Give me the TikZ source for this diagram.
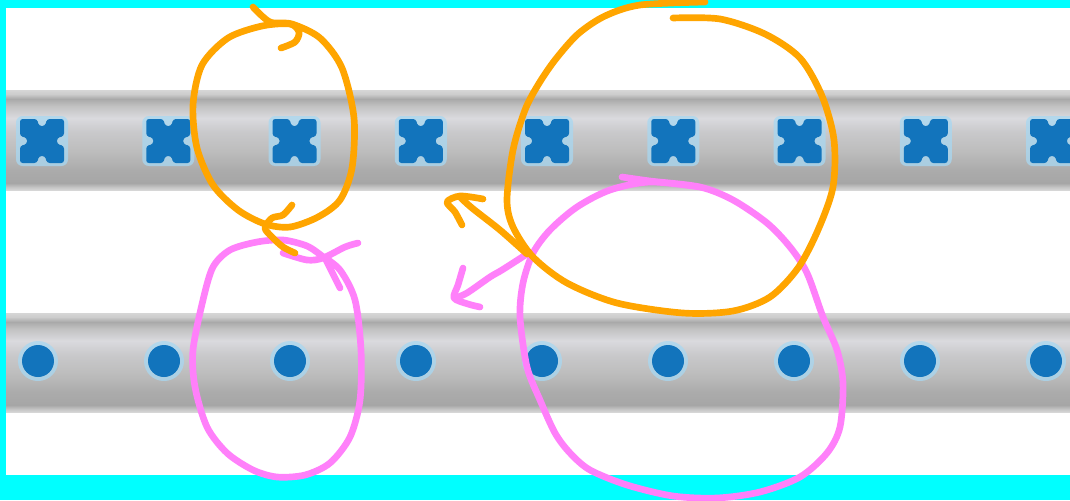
\documentclass[tikz,border=0pt]{standalone}
\usepackage{tikz}
\usetikzlibrary{arrows.meta, positioning}

\definecolor{framecyan}{HTML}{00FFFF}
\definecolor{penorange}{HTML}{FFA500}
\definecolor{penpink}{HTML}{FF80FA}
\definecolor{dotblue}{HTML}{1274BC}
\definecolor{dothalo}{HTML}{A8D8F2}
\definecolor{rodA}{HTML}{D6D6D6}
\definecolor{rodB}{HTML}{C4C4C4}
\definecolor{rodC}{HTML}{A6A6A6}
\definecolor{rodD}{HTML}{ABABAB}
\definecolor{rodE}{HTML}{BCBCBC}
\definecolor{rodF}{HTML}{C9C9CB}
\definecolor{rodG}{HTML}{DADADE}
\definecolor{rodH}{HTML}{C2C2C2}
\definecolor{rodI}{HTML}{A9A9A9}
\definecolor{rodJ}{HTML}{CDCDCD}

\pgfdeclareverticalshading{rodshade}{100bp}{color(0bp)=(rodA); color(25bp)=(rodA); color(26.5bp)=(rodB); color(28.5bp)=(rodC); color(35bp)=(rodD); color(44bp)=(rodE); color(54bp)=(rodF); color(61bp)=(rodG); color(67bp)=(rodH); color(70.5bp)=(rodI); color(73bp)=(rodJ); color(75bp)=(rodA); color(100bp)=(rodA)}

\begin{document}
\begin{tikzpicture}[x=0.75pt, y=-0.75pt,
  rod/.style={shading=rodshade},
  crossmark/.style={fill=dotblue, rounded corners=2pt},
  roundmark/.style={fill=dotblue},
  halo/.style={fill=dothalo, opacity=0.75},
  orangepen/.style={draw=penorange, line width=5pt, line cap=round, line join=round},
  pinkpen/.style={draw=penpink, line width=5pt, line cap=round, line join=round}]
\fill[framecyan] (0,0) rectangle (1070,500);
\fill[white] (6,8) rectangle (1070,475);
\useasboundingbox (0,0) rectangle (1070,500);

\shade[rod] (6,90) rectangle (1070,190);
\shade[rod] (6,313) rectangle (1070,412);

\foreach \cx in {42,168.25,294.5,420.75,547,673.25,799.5,925.75,1052} {
  \begin{scope}[shift={(\cx,141)}]
    \fill[halo, rounded corners=5pt] (-26,-25) rectangle (26,25);
    \path[crossmark] (-22,-22) -- (-5,-22) -- (-3,-15) -- (3,-15) -- (5,-22) -- (22,-22)
      -- (22,-5) -- (15,-3) -- (15,3) -- (22,5) -- (22,22) -- (5,22) -- (3,15) -- (-3,15)
      -- (-5,22) -- (-22,22) -- (-22,5) -- (-15,3) -- (-15,-3) -- (-22,-5) -- cycle;
  \end{scope}
}
\foreach \cx in {38,164,290,416,542,668,794,920,1046} {
  \fill[halo] (\cx,361) circle (20);
  \fill[roundmark] (\cx,361) circle (16);
}

\coordinate (hub) at (527,254);

\draw[pinkpen] plot[smooth] coordinates {(322,256) (340,270) (355,300) (361,350) (360,400) (350,437) (330,463) (305,475) (277,477) (253,470) (227,453) (207,427) (195,387) (193,350) (203,300) (213,267) (230,250) (257,242) (283,240) (307,246) (322,256)};
\draw[pinkpen] plot[smooth] coordinates {(283,253) (307,260) (323,258) (345,247) (358,243)};
\draw[pinkpen] (325,258) -- (340,288);

\draw[pinkpen] plot[smooth] coordinates {(622,177) (650,181) (700,187) (733,200) (767,223) (790,247) (807,273) (823,317) (837,350) (843,383) (840,427) (827,453) (800,477) (760,492) (717,498) (673,496) (627,485) (590,470) (570,453) (555,433) (540,400) (527,367) (520,317) (523,283) (533,253) (550,230) (577,207) (610,190) (650,182) (700,187)};
\draw[pinkpen] plot[smooth] coordinates {(hub) (502,270) (490,277) (467,293) (455,298)};
\draw[pinkpen] plot[smooth] coordinates {(463,268) (458,285) (454,298) (468,304) (480,307)};

\draw[orangepen] plot[smooth] coordinates {(253,7) (270,22) (292,24) (320,38) (342,68) (354,118) (352,168) (340,200) (318,217) (290,227) (265,224) (238,210) (213,185) (197,148) (193,105) (202,65) (228,38) (262,26) (290,24) (299,32) (295,42) (281,48)};
\draw[orangepen] plot[smooth] coordinates {(292,205) (283,215) (272,218) (265,228) (272,237) (283,247) (295,253)};

\draw[orangepen] plot[smooth] coordinates {(705,2) (640,5) (605,16) (578,34) (555,60) (538,85) (525,110) (513,150) (507,200) (513,227) (533,257) (567,283) (617,303) (683,313) (733,311) (770,297) (798,268) (818,230) (833,187) (834,140) (822,96) (800,58) (765,34) (720,19) (673,18)};
\draw[orangepen] plot[smooth] coordinates {(hub) (500,230) (472,208) (460,197)};
\draw[orangepen] plot[smooth] coordinates {(483,199) (460,196) (447,202) (455,212) (462,225)};
\end{tikzpicture}
\end{document}
